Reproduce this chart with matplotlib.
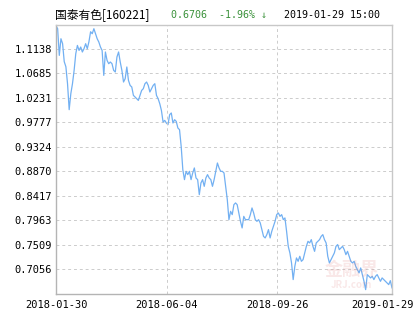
import matplotlib
matplotlib.use('Agg')
import matplotlib.pyplot as plt
import matplotlib.transforms as mtransforms
import numpy as np

plt.rcParams['font.family'] = ['Noto Sans CJK SC', 'DejaVu Sans']

# fund NAV, one point per trading day
nav = [
    1.1569, 1.1514, 1.1019, 1.1328, 1.1236, 1.0902, 1.0809, 1.0494, 1.0012, 1.0309,
    1.0494, 1.0741, 1.1050, 1.1204, 1.1111, 1.1174, 1.1082, 1.1143, 1.1236, 1.1143,
    1.1273, 1.1458, 1.1421, 1.1514, 1.1421, 1.1328, 1.1267, 1.1174, 1.1111, 1.0648,
    1.1082, 1.0926, 1.0865, 1.0896, 1.0865,
    1.0741, 1.0711, 1.0989, 1.1082, 1.0896, 1.0741, 1.0525, 1.0587, 1.0804, 1.0555,
    1.0462, 1.0433, 1.0277, 1.0247, 1.0216, 1.0184, 1.0277, 1.0370, 1.0401, 1.0494,
    1.0525, 1.0462, 1.0340, 1.0401, 1.0462, 1.0494, 1.0277, 1.0216, 1.0123, 0.9999,
    0.9784, 0.9813,
    0.9765, 0.9734, 0.9919, 0.9951, 0.9765, 0.9826, 0.9795, 0.9672, 0.9641, 0.9331,
    0.8899, 0.8714, 0.8868, 0.8807, 0.8868, 0.8714, 0.8838, 0.8931, 0.8745, 0.8714,
    0.8436, 0.8653, 0.8714, 0.8590, 0.8745, 0.8807, 0.8745, 0.8714, 0.8590, 0.8714,
    0.8868, 0.9023, 0.8931, 0.8868, 0.8868,
    0.8838, 0.8590, 0.8343, 0.7972, 0.8126, 0.8065, 0.8250, 0.8282, 0.8250, 0.8096,
    0.7941, 0.7818, 0.8033, 0.7972, 0.7972, 0.7972, 0.8065, 0.8189, 0.8096, 0.7972,
    0.7941, 0.7972, 0.7911, 0.7787, 0.7662, 0.7633, 0.7694, 0.7787, 0.7633, 0.7755,
    0.7848, 0.7941, 0.8065,
    0.8096, 0.8033, 0.8065, 0.7972, 0.8004, 0.7755, 0.7477, 0.7355, 0.7169, 0.6860,
    0.7106, 0.7262, 0.7199, 0.7292, 0.7199, 0.7230, 0.7355, 0.7477, 0.7570, 0.7540,
    0.7601, 0.7477, 0.7384, 0.7540, 0.7570, 0.7601, 0.7662, 0.7694, 0.7601, 0.7540,
    0.7292, 0.7169,
    0.7230, 0.7292, 0.7355, 0.7477, 0.7509, 0.7416, 0.7447, 0.7477, 0.7416, 0.7323,
    0.7384, 0.7292, 0.7199, 0.7169, 0.7199, 0.7106, 0.7045, 0.6984, 0.7076, 0.6952,
    0.6828, 0.6674, 0.6952, 0.6921, 0.6891, 0.6921, 0.6860, 0.6921, 0.6952, 0.6891,
    0.6828, 0.6891, 0.6860, 0.6828, 0.6798, 0.6767, 0.6840, 0.6706,
]
date_labels = ['2018-01-30', '2018-06-04', '2018-09-26', '2019-01-29']
y_ticks = [0.7056, 0.7509, 0.7963, 0.8417, 0.8870, 0.9324, 0.9777, 1.0231, 1.0685, 1.1138]
y_lim = (0.6602, 1.1592)

W, H = 415, 330
fig = plt.figure(figsize=(W / 100, H / 100), dpi=100)
ax = fig.add_axes([56 / W, 1 - 293.5 / H, 336 / W, 269 / H])

x = np.arange(len(nav))
ax.plot(x, nav, color='#72b0f2', lw=0.9)

n = len(nav) - 1
xt = [0, n * 0.329, n * 0.659, n]
ax.set_xlim(0, n)
ax.set_ylim(*y_lim)
ax.set_xticks(xt)
ax.set_xticklabels(date_labels)
ax.set_yticks(y_ticks)
ax.set_yticklabels([f'{v:.4f}' for v in y_ticks])

for lab in ax.get_xticklabels() + ax.get_yticklabels():
    lab.set_fontfamily('DejaVu Sans Mono')
    lab.set_fontsize(7.5)
ax.tick_params(length=0, pad=3, colors='black')
ax.tick_params(axis='x', pad=5)

# keep the last date inside the figure
last = ax.get_xticklabels()[-1]
last.set_transform(last.get_transform() +
                   mtransforms.ScaledTranslation(-10 / 100, 0, fig.dpi_scale_trans))

ax.grid(axis='y', color='#cccccc', ls=(0, (3, 3)), lw=0.7)
for xv in xt[1:3]:
    ax.axvline(xv, color='#cccccc', ls=(0, (3, 3)), lw=0.7)
for s in ax.spines.values():
    s.set_color('#c8c8c8')
    s.set_linewidth(1.0)
ax.spines['left'].set_color('#b4b4b4')
ax.spines['bottom'].set_color('#b4b4b4')

# watermark
ax.text(0.88, 0.09, '金融界', transform=ax.transAxes, fontsize=13, color='#e08080',
        alpha=0.18, ha='center', va='center', fontweight='bold')
ax.text(0.88, 0.03, 'JRJ.com', transform=ax.transAxes, fontsize=7, color='#e08080',
        alpha=0.18, ha='center', va='center', style='italic', fontweight='bold')

fig.text(55 / W, 1 - 15 / H, '国泰有色[160221]', fontsize=8.5, va='center', ha='left')
fig.text(171 / W, 1 - 15 / H, '0.6706  -1.96% ↓', fontsize=7.2, va='center', ha='left',
         color='#3a913a', family=['DejaVu Sans Mono', 'DejaVu Sans'])
fig.text(284 / W, 1 - 15 / H, '2019-01-29 15:00', fontsize=7.2, va='center', ha='left',
         family=['DejaVu Sans Mono', 'DejaVu Sans'])

fig.savefig('out.png', dpi=100, facecolor='white')
